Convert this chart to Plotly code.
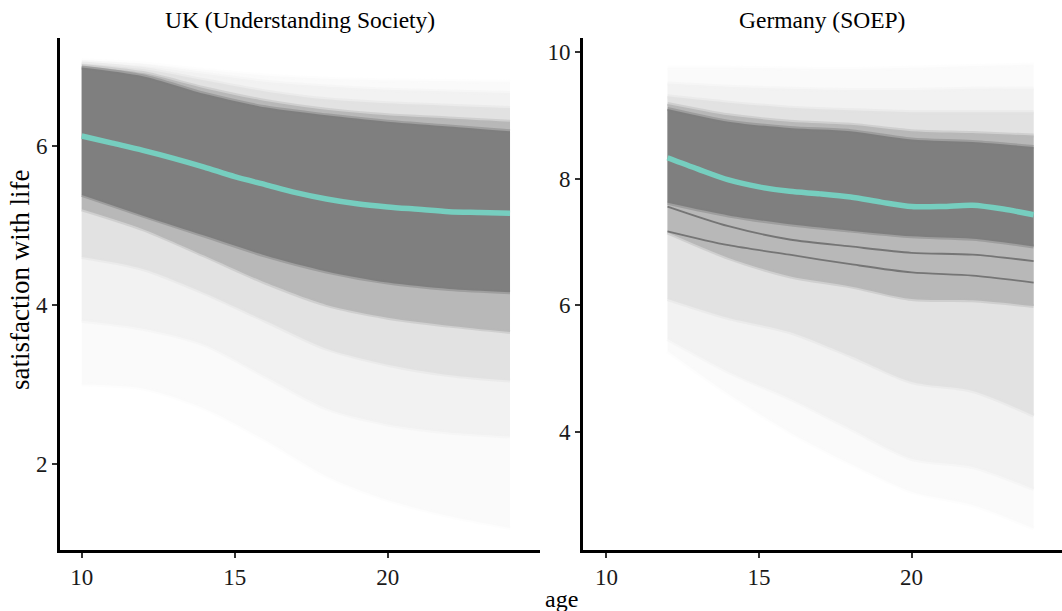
import plotly.graph_objects as go

# ---------------- data ----------------
uk_ages = [10, 12, 14, 16, 18, 20, 22, 24]
# upper edges of the trajectory cloud, from faintest (outer) to core
uk_top_s250 = [7.07, 7.03, 6.95, 6.88, 6.84, 6.82, 6.81, 6.80]
uk_top_s238 = [7.05, 7.00, 6.90, 6.80, 6.74, 6.70, 6.68, 6.66]
uk_top_s215 = [7.03, 6.96, 6.82, 6.68, 6.58, 6.53, 6.50, 6.47]
uk_top_s180 = [7.00, 6.91, 6.72, 6.56, 6.45, 6.38, 6.34, 6.30]
uk_top_core = [6.98, 6.87, 6.65, 6.48, 6.38, 6.30, 6.24, 6.18]
# lower edges
uk_bot_core = [5.38, 5.12, 4.87, 4.62, 4.42, 4.28, 4.20, 4.16]
uk_bot_s180 = [5.20, 4.95, 4.62, 4.28, 4.00, 3.84, 3.74, 3.66]
uk_bot_s215 = [4.60, 4.45, 4.15, 3.80, 3.45, 3.25, 3.12, 3.05]
uk_bot_s238 = [3.80, 3.70, 3.50, 3.10, 2.70, 2.50, 2.40, 2.35]
uk_bot_s250 = [3.00, 2.95, 2.70, 2.30, 1.85, 1.55, 1.35, 1.20]

uk_mean_ages = [10, 11, 12, 13, 14, 15, 16, 17, 18, 19, 20, 21, 22, 23, 24]
uk_mean = [6.12, 6.03, 5.94, 5.84, 5.73, 5.61, 5.51, 5.41, 5.33, 5.27, 5.23, 5.20, 5.17, 5.16, 5.15]

de_ages = [12, 14, 16, 18, 20, 22, 24]
de_top_s250 = [9.75, 9.75, 9.74, 9.73, 9.75, 9.78, 9.80]
de_top_s238 = [9.50, 9.45, 9.42, 9.40, 9.40, 9.42, 9.42]
de_top_s215 = [9.30, 9.20, 9.12, 9.08, 9.05, 9.05, 9.05]
de_top_s180 = [9.18, 9.00, 8.90, 8.85, 8.75, 8.72, 8.68]
de_top_core = [9.10, 8.90, 8.80, 8.75, 8.62, 8.58, 8.50]
de_bot_core = [7.62, 7.42, 7.28, 7.18, 7.09, 7.05, 6.93]
de_bot_s180 = [7.15, 6.75, 6.46, 6.30, 6.10, 6.08, 5.99]
de_bot_s215 = [6.10, 5.80, 5.58, 5.20, 4.79, 4.65, 4.26]
de_bot_s238 = [5.47, 4.95, 4.53, 4.05, 3.58, 3.45, 3.10]
de_bot_s250 = [5.28, 4.60, 4.00, 3.50, 3.06, 2.85, 2.48]
# two visibly darker individual trajectories below the core
de_line_a = [7.17, 6.95, 6.80, 6.65, 6.52, 6.47, 6.36]
de_line_b = [7.56, 7.25, 7.04, 6.93, 6.83, 6.80, 6.70]

de_mean_ages = [12, 13, 14, 15, 16, 17, 18, 19, 20, 21, 22, 23, 24]
de_mean = [8.33, 8.15, 7.98, 7.87, 7.80, 7.76, 7.71, 7.63, 7.56, 7.56, 7.58, 7.52, 7.43]

x_ticks = [10, 15, 20]
uk_y_ticks = [2, 4, 6]
de_y_ticks = [4, 6, 8, 10]
titles = ["UK (Understanding Society)", "Germany (SOEP)"]

# ---------------- styling ----------------
FONT = "Liberation Serif, Times New Roman, serif"
TEAL = "#76CEBF"
shade_levels = [250, 242, 226, 184, 127]

fig = go.Figure()


def add_band(ages, lower, upper, level, xa, ya):
    edge = "rgba(%d,%d,%d,0.45)" % (level, level, level)
    fill = "rgb(%d,%d,%d)" % (level, level, level)
    fig.add_trace(go.Scatter(x=ages, y=lower, mode="lines",
                             line=dict(width=4, color=edge, shape="spline", smoothing=0.8),
                             hoverinfo="skip", showlegend=False, xaxis=xa, yaxis=ya))
    fig.add_trace(go.Scatter(x=ages, y=upper, mode="lines",
                             line=dict(width=4, color=edge, shape="spline", smoothing=0.8),
                             fill="tonexty", fillcolor=fill, hoverinfo="skip", showlegend=False,
                             xaxis=xa, yaxis=ya))


uk_tops = [uk_top_s250, uk_top_s238, uk_top_s215, uk_top_s180, uk_top_core]
uk_bots = [uk_bot_s250, uk_bot_s238, uk_bot_s215, uk_bot_s180, uk_bot_core]
for top, bot, lev in zip(uk_tops, uk_bots, shade_levels):
    add_band(uk_ages, bot, top, lev, "x", "y")

de_tops = [de_top_s250, de_top_s238, de_top_s215, de_top_s180, de_top_core]
de_bots = [de_bot_s250, de_bot_s238, de_bot_s215, de_bot_s180, de_bot_core]
for top, bot, lev in zip(de_tops, de_bots, shade_levels):
    add_band(de_ages, bot, top, lev, "x2", "y2")

for ln in (de_line_a, de_line_b):
    fig.add_trace(go.Scatter(x=de_ages, y=ln, mode="lines",
                             line=dict(color="rgba(105,105,105,0.85)", width=1.8, shape="spline", smoothing=0.8),
                             hoverinfo="skip", showlegend=False, xaxis="x2", yaxis="y2"))

fig.add_trace(go.Scatter(x=uk_mean_ages, y=uk_mean, mode="lines",
                         line=dict(color=TEAL, width=5.5, shape="spline", smoothing=0.8),
                         showlegend=False, xaxis="x", yaxis="y"))
fig.add_trace(go.Scatter(x=de_mean_ages, y=de_mean, mode="lines",
                         line=dict(color=TEAL, width=5.5, shape="spline", smoothing=0.8),
                         showlegend=False, xaxis="x2", yaxis="y2"))

W, H = 1062, 611
y_dom = [(H - 550) / H, (H - 38) / H]

axis_common = dict(showline=True, linecolor="black", linewidth=2.6, ticks="outside", ticklen=5,
                   tickwidth=2, tickcolor="#333333", showgrid=False, zeroline=False,
                   tickfont=dict(family=FONT, size=23, color="#1a1a1a"))

fig.update_layout(
    width=W, height=H, margin=dict(l=0, r=0, t=0, b=0),
    paper_bgcolor="white", plot_bgcolor="white",
    font=dict(family=FONT, color="black"),
    xaxis=dict(domain=[60 / W, 540 / W], range=[9.29, 24.98], tickvals=x_ticks, anchor="y", **axis_common),
    yaxis=dict(domain=y_dom, range=[0.924, 7.35], tickvals=uk_y_ticks, anchor="x", **axis_common),
    xaxis2=dict(domain=[583 / W, 1.0], range=[9.23, 24.93], tickvals=x_ticks, anchor="y2", **axis_common),
    yaxis2=dict(domain=y_dom, range=[2.14, 10.22], tickvals=de_y_ticks, anchor="x2", **axis_common),
    annotations=[
        dict(text=titles[0], x=300 / W, y=1 - 20 / H, xref="paper", yref="paper", showarrow=False,
             xanchor="center", yanchor="middle", font=dict(family=FONT, size=23.5, color="black")),
        dict(text=titles[1], x=822 / W, y=1 - 20 / H, xref="paper", yref="paper", showarrow=False,
             xanchor="center", yanchor="middle", font=dict(family=FONT, size=23.5, color="black")),
        dict(text="age", x=561 / W, y=1 - 599 / H, xref="paper", yref="paper", showarrow=False,
             xanchor="center", yanchor="middle", font=dict(family=FONT, size=24, color="black")),
        dict(text="satisfaction with life", x=20 / W, y=1 - 280 / H, xref="paper", yref="paper",
             showarrow=False, textangle=-90, xanchor="center", yanchor="middle",
             font=dict(family=FONT, size=27, color="black")),
    ],
)

fig.write_html("out.html", config={"displayModeBar": False},
               post_script="document.body.style.margin='0';document.body.style.overflow='hidden';")
